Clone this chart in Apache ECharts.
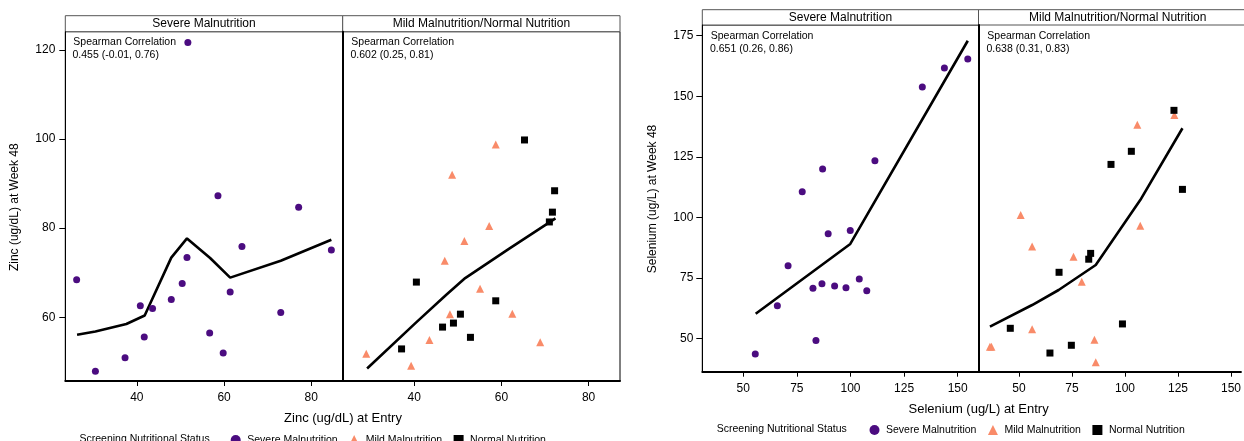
<!DOCTYPE html>
<html><head><meta charset="utf-8">
<script src="https://cdn.jsdelivr.net/npm/echarts@6/dist/echarts.min.js"></script>
<style>html,body{margin:0;padding:0;background:#fff}#c{width:1244px;height:441px}</style>
</head><body><div id="c"></div>
<script>
const FONT = '"Liberation Sans", Arial, Helvetica, sans-serif';
const PURPLE = '#4B0C80';
const SALMON = '#F98B69';

// ---- Zinc panel data ----
const zincSevere = [[51.7,121.7],[26.2,68.4],[30.5,47.9],[37.3,50.9],[40.8,62.6],[41.7,55.6],[43.6,62.0],
  [47.9,64.0],[50.4,67.6],[51.5,73.4],[58.6,87.3],[56.7,56.5],[59.8,52.0],[61.4,65.7],[64.1,75.9],
  [73.0,61.1],[77.1,84.7],[84.6,75.1]];
const zincSevereFit = [[26.3,56.1],[30.5,56.8],[37.6,58.5],[41.8,60.4],[47.9,73.4],[51.5,77.7],[56.8,73.3],
  [61.4,68.9],[73.0,72.7],[84.6,77.4]];
const zincMild = [[29.0,51.8],[39.3,49.1],[43.5,54.9],[47.0,72.7],[48.2,60.7],[48.7,92.0],[51.5,77.1],
  [55.1,66.4],[57.2,80.5],[58.7,98.8],[62.5,60.8],[68.9,54.4]];
const zincNormal = [[37.1,52.9],[40.5,67.9],[46.5,57.8],[49.0,58.7],[50.6,60.7],[52.9,55.5],[58.7,63.7],
  [65.3,99.8],[71.0,81.4],[71.7,83.6],[72.2,88.4]];
const zincOtherFit = [[29.2,48.5],[40.4,58.8],[47.3,65.0],[51.7,68.8],[61.8,75.4],[72.4,82.2]];
const zincXTicks = [40, 60, 80];
const zincYTicks = [60, 80, 100, 120];

// ---- Selenium panel data ----
const selSevere = [[55.6,43.7],[65.9,63.6],[70.9,80.1],[77.5,110.6],[82.5,70.8],[83.9,49.3],[86.7,72.7],
  [87.0,120.0],[89.6,93.3],[92.6,71.7],[97.9,71.0],[99.9,94.6],[104.1,74.6],[107.6,69.8],[111.4,123.4],
  [133.5,153.8],[143.8,161.7],[154.7,165.4]];
const selSevereFit = [[55.8,60.3],[99.9,89.1],[154.7,172.9]];
const selMild = [[36.3,46.7],[37.0,46.7],[50.8,101.0],[56.2,88.0],[56.2,53.9],[75.7,83.8],[79.6,73.5],
  [85.6,49.6],[86.2,40.3],[105.8,138.3],[107.2,96.6],[123.3,142.3]];
const selNormal = [[45.9,54.3],[64.6,44.1],[68.9,77.4],[74.7,47.3],[82.9,82.8],[83.8,85.2],[93.4,121.9],
  [98.8,56.1],[103.0,127.3],[123.1,144.2],[127.1,111.6]];
const selOtherFit = [[36.3,55.0],[56.2,63.9],[68.7,70.1],[86.2,80.4],[107.2,107.2],[127.1,136.8]];
const selXTicks = [50, 75, 100, 125, 150];
const selYTicks = [50, 75, 100, 125, 150, 175];

const headers = ['Severe Malnutrition', 'Mild Malnutrition/Normal Nutrition'];
const spearman = ['0.455 (-0.01, 0.76)', '0.602 (0.25, 0.81)', '0.651 (0.26, 0.86)', '0.638 (0.31, 0.83)'];
const legendNames = ['Severe Malnutrition', 'Mild Malnutrition', 'Normal Nutrition'];

const chart = echarts.init(document.getElementById('c'), null, {renderer: 'canvas'});

function xAxis(gi, min, max, ticks, margin) {
  return {
    type: 'value', gridIndex: gi, min: min, max: max,
    axisLine: {show: true, onZero: false, lineStyle: {color: '#000', width: 2}},
    axisTick: {show: true, inside: false, length: 5, customValues: ticks, lineStyle: {color: '#000', width: 1}},
    axisLabel: {show: true, customValues: ticks, margin: margin, color: '#000', fontSize: 12, fontFamily: FONT},
    splitLine: {show: false}
  };
}
function yAxis(gi, min, max, ticks, showLabels, margin) {
  return {
    type: 'value', gridIndex: gi, min: min, max: max,
    axisLine: {show: true, onZero: false, lineStyle: {color: '#000', width: showLabels ? 1 : 2}},
    axisTick: {show: showLabels, length: 6, customValues: ticks, lineStyle: {color: '#000', width: 1}},
    axisLabel: {show: showLabels, customValues: ticks, margin: margin, color: '#000', fontSize: 12, fontFamily: FONT},
    splitLine: {show: false}
  };
}
function scatter(name, data, gi, symbol, color, size) {
  return {name: name, type: 'scatter', xAxisIndex: gi, yAxisIndex: gi, data: data,
    symbol: symbol, symbolSize: size, itemStyle: {color: color, opacity: 1}, silent: true, z: 3};
}
function fit(data, gi) {
  return {type: 'line', xAxisIndex: gi, yAxisIndex: gi, data: data, showSymbol: false, symbol: 'none',
    lineStyle: {color: '#000', width: 2.6}, silent: true, z: 2, animation: false};
}
function txt(x, y, s, size) {
  return {type: 'text', x: x, y: y, silent: true,
    style: {text: s, fill: '#000', font: size + 'px ' + FONT, textAlign: 'left', textVerticalAlign: 'middle'}};
}
function ctxt(x, y, s, size) {
  return {type: 'text', x: x, y: y, silent: true,
    style: {text: s, fill: '#000', font: size + 'px ' + FONT, textAlign: 'center', textVerticalAlign: 'middle'}};
}
function hrect(x, y, w, h) {
  return {type: 'rect', shape: {x: x, y: y, width: w, height: h}, silent: true,
    style: {fill: '#fff', stroke: '#555', lineWidth: 1}};
}

const grids = [
  {left: 65.3, top: 31.7, width: 277.4, height: 349.3, show: true},
  {left: 342.7, top: 31.7, width: 277.3, height: 349.3, show: true},
  {left: 702.3, top: 25, width: 276.2, height: 346.7, show: true},
  // right facet runs past the picture's right edge: no visible right frame
  {left: 978.5, top: 25, width: 265.5, height: 346.7, show: false}
].map(g => Object.assign(g, {borderColor: '#000', borderWidth: 1, backgroundColor: '#fff'}));

const legendBase = {
  orient: 'horizontal', padding: 0, itemWidth: 10, itemHeight: 10, itemGap: 11.5, selectedMode: false,
  textStyle: {color: '#000', fontSize: 10.5, fontFamily: FONT, padding: [0, 0, 0, 1.5]},
  data: [{name: legendNames[0], icon: 'circle'}, {name: legendNames[1], icon: 'triangle'}, {name: legendNames[2], icon: 'rect'}]
};

const option = {
  animation: false,
  backgroundColor: '#fff',
  grid: grids,
  xAxis: [
    xAxis(0, 23.6, 87.2, zincXTicks, 11),
    xAxis(1, 23.6, 87.2, zincXTicks, 11),
    xAxis(2, 30.9, 159.7, selXTicks, 11),
    xAxis(3, 30.9, 154.7, selXTicks, 11)
  ],
  yAxis: [
    yAxis(0, 45.7, 124.1, zincYTicks, true, 10),
    yAxis(1, 45.7, 124.1, zincYTicks, false, 10),
    yAxis(2, 36.4, 179.4, selYTicks, true, 9),
    yAxis(3, 36.4, 179.4, selYTicks, false, 9)
  ],
  legend: [
    Object.assign({left: 230.7, top: 434.5}, legendBase),
    Object.assign({left: 869.5, top: 424.5}, legendBase)
  ],
  series: [
    scatter(legendNames[0], zincSevere, 0, 'circle', PURPLE, 7),
    fit(zincSevereFit, 0),
    scatter(legendNames[1], zincMild, 1, 'triangle', SALMON, 8),
    scatter(legendNames[2], zincNormal, 1, 'rect', '#000', 7),
    fit(zincOtherFit, 1),
    scatter(legendNames[0], selSevere, 2, 'circle', PURPLE, 7),
    fit(selSevereFit, 2),
    scatter(legendNames[1], selMild, 3, 'triangle', SALMON, 8),
    scatter(legendNames[2], selNormal, 3, 'rect', '#000', 7),
    fit(selOtherFit, 3)
  ],
  graphic: [
    // headers
    hrect(65.3, 15.7, 277.4, 16), hrect(342.7, 15.7, 277.3, 16),
    ctxt(204, 23.5, headers[0], 12), ctxt(481.4, 23.5, headers[1], 12),
    hrect(702.3, 9.7, 276.2, 15.3), hrect(978.5, 9.7, 280, 15.3),
    ctxt(840.4, 17.3, headers[0], 12), ctxt(1117.7, 17.3, headers[1], 12),
    // Spearman annotations
    txt(73.3, 42.3, 'Spearman Correlation', 10.5), txt(72.5, 55, spearman[0], 10.5),
    txt(351.3, 42.3, 'Spearman Correlation', 10.5), txt(350.5, 55, spearman[1], 10.5),
    txt(710.7, 35.7, 'Spearman Correlation', 10.5), txt(710, 49, spearman[2], 10.5),
    txt(987.3, 35.7, 'Spearman Correlation', 10.5), txt(986.5, 49, spearman[3], 10.5),
    // axis titles
    ctxt(343, 418.5, 'Zinc (ug/dL) at Entry', 13),
    ctxt(978.6, 409.5, 'Selenium (ug/L) at Entry', 13),
    {type: 'text', x: 15, y: 207.2, rotation: Math.PI / 2, silent: true,
      style: {text: 'Zinc (ug/dL) at Week 48', fill: '#000', font: '12px ' + FONT, textAlign: 'center', textVerticalAlign: 'middle'}},
    {type: 'text', x: 652.7, y: 199, rotation: Math.PI / 2, silent: true,
      style: {text: 'Selenium (ug/L) at Week 48', fill: '#000', font: '12px ' + FONT, textAlign: 'center', textVerticalAlign: 'middle'}},
    // legend titles
    txt(79.5, 439.5, 'Screening Nutritional Status', 10.5),
    txt(716.7, 429.5, 'Screening Nutritional Status', 10.5)
  ]
};
chart.setOption(option);
</script></body></html>
